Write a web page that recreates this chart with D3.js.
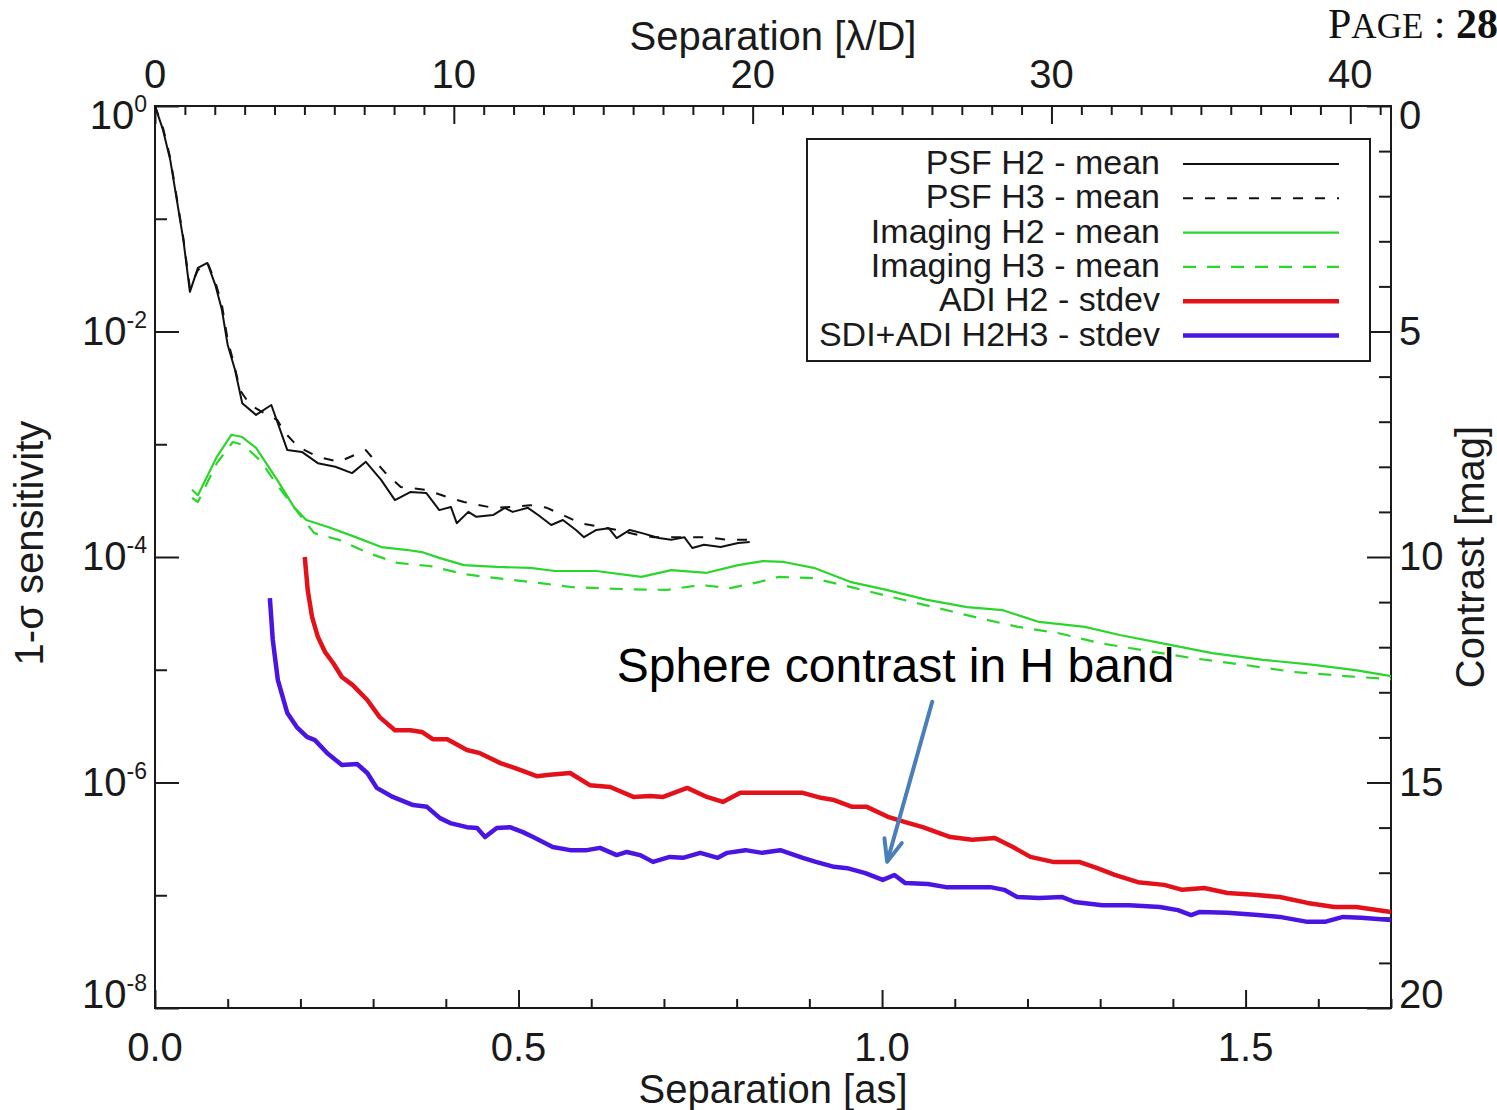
<!DOCTYPE html>
<html>
<head>
<meta charset="utf-8">
<script src="https://cdn.jsdelivr.net/npm/d3@7"></script>
<style>
  html, body { margin: 0; padding: 0; background: #fff; }
  svg { display: block; font-family: "Liberation Sans", Arial, Helvetica, sans-serif; }
</style>
</head>
<body>
<svg id="chart" width="1497" height="1110"></svg>
<script>
// ---- Data: [separation (arcsec), contrast (mag)] ----
const psfH2 = [
  [0.000,0.00],[0.011,0.53],[0.021,1.20],[0.030,2.08],[0.039,2.97],[0.048,4.12],[0.059,3.59],
  [0.072,3.48],[0.083,3.97],[0.092,4.52],[0.100,5.30],[0.110,5.85],[0.120,6.59],[0.139,6.85],
  [0.160,6.63],[0.182,7.63],[0.202,7.67],[0.224,7.92],[0.248,8.00],[0.271,8.14],[0.290,7.89],
  [0.311,8.29],[0.330,8.74],[0.351,8.56],[0.373,8.58],[0.391,8.96],[0.407,8.89],[0.415,9.25],
  [0.431,9.00],[0.442,9.11],[0.465,9.07],[0.481,8.91],[0.492,9.00],[0.513,8.91],[0.527,9.07],
  [0.545,9.29],[0.561,9.18],[0.579,9.40],[0.590,9.56],[0.607,9.40],[0.624,9.36],[0.635,9.58],
  [0.653,9.40],[0.670,9.47],[0.693,9.58],[0.710,9.62],[0.728,9.56],[0.739,9.80],[0.755,9.73],
  [0.778,9.78],[0.802,9.69],[0.818,9.67]
];
const psfH3 = [
  [0.000,0.00],[0.011,0.49],[0.021,1.15],[0.030,2.04],[0.039,2.93],[0.048,4.04],[0.059,3.64],
  [0.072,3.46],[0.083,3.90],[0.092,4.41],[0.100,5.19],[0.110,5.81],[0.117,6.30],[0.131,6.63],
  [0.147,6.78],[0.168,6.96],[0.179,7.25],[0.197,7.56],[0.224,7.78],[0.253,7.89],[0.290,7.63],
  [0.316,8.12],[0.338,8.45],[0.373,8.51],[0.402,8.67],[0.425,8.78],[0.465,8.91],[0.492,8.89],
  [0.516,8.85],[0.539,8.91],[0.561,9.07],[0.585,9.25],[0.612,9.33],[0.635,9.40],[0.664,9.51],
  [0.686,9.56],[0.721,9.56],[0.755,9.56],[0.790,9.62],[0.818,9.62]
];
const imagingH2 = [
  [0.051,8.51],[0.059,8.63],[0.085,7.78],[0.105,7.29],[0.120,7.34],[0.139,7.58],[0.168,8.29],
  [0.191,8.89],[0.208,9.18],[0.237,9.33],[0.276,9.56],[0.311,9.78],[0.345,9.84],[0.367,9.89],
  [0.391,10.02],[0.425,10.18],[0.470,10.22],[0.516,10.24],[0.550,10.31],[0.607,10.31],[0.669,10.44],
  [0.710,10.29],[0.759,10.35],[0.802,10.18],[0.836,10.09],[0.865,10.11],[0.906,10.24],[0.956,10.55],
  [1.006,10.73],[1.062,10.95],[1.117,11.11],[1.166,11.18],[1.216,11.44],[1.279,11.55],[1.327,11.73],
  [1.384,11.91],[1.454,12.13],[1.524,12.28],[1.594,12.39],[1.651,12.51],[1.700,12.64]
];
const imagingH3 = [
  [0.051,8.69],[0.059,8.78],[0.085,7.92],[0.107,7.45],[0.122,7.52],[0.144,7.85],[0.173,8.51],
  [0.197,9.02],[0.219,9.47],[0.253,9.62],[0.293,9.91],[0.333,10.13],[0.378,10.20],[0.425,10.38],
  [0.470,10.47],[0.530,10.58],[0.575,10.67],[0.640,10.71],[0.704,10.73],[0.750,10.62],[0.791,10.69],
  [0.832,10.55],[0.858,10.44],[0.906,10.47],[0.963,10.69],[1.019,10.91],[1.076,11.13],[1.132,11.35],
  [1.187,11.55],[1.243,11.69],[1.300,11.91],[1.356,12.06],[1.426,12.24],[1.497,12.39],[1.567,12.55],
  [1.637,12.64],[1.700,12.71]
];
const adiH2 = [
  [0.206,10.00],[0.210,10.73],[0.216,11.33],[0.224,11.77],[0.234,12.11],[0.245,12.35],[0.257,12.66],
  [0.272,12.84],[0.292,13.17],[0.309,13.55],[0.330,13.84],[0.351,13.84],[0.367,13.88],[0.382,14.04],
  [0.402,14.04],[0.429,14.28],[0.447,14.35],[0.475,14.57],[0.502,14.72],[0.525,14.86],[0.543,14.83],
  [0.571,14.79],[0.598,15.06],[0.626,15.10],[0.658,15.32],[0.681,15.30],[0.699,15.32],[0.732,15.12],
  [0.759,15.32],[0.781,15.43],[0.805,15.23],[0.842,15.23],[0.891,15.23],[0.916,15.34],[0.934,15.39],
  [0.959,15.54],[0.979,15.54],[1.008,15.76],[1.032,15.88],[1.056,15.99],[1.094,16.21],[1.124,16.27],
  [1.155,16.23],[1.180,16.43],[1.204,16.65],[1.235,16.76],[1.271,16.76],[1.296,16.90],[1.320,17.05],
  [1.352,17.21],[1.388,17.27],[1.413,17.38],[1.443,17.34],[1.475,17.45],[1.512,17.49],[1.547,17.54],
  [1.585,17.67],[1.622,17.76],[1.652,17.76],[1.700,17.87]
];
const sdiAdiH2H3 = [
  [0.158,10.91],[0.162,11.84],[0.169,12.73],[0.182,13.46],[0.195,13.77],[0.209,13.99],[0.220,14.06],
  [0.237,14.35],[0.257,14.61],[0.278,14.59],[0.292,14.79],[0.305,15.12],[0.327,15.32],[0.355,15.50],
  [0.374,15.54],[0.392,15.79],[0.406,15.90],[0.429,15.99],[0.443,16.01],[0.454,16.21],[0.470,16.01],
  [0.488,15.99],[0.506,16.10],[0.520,16.21],[0.547,16.43],[0.571,16.50],[0.594,16.50],[0.612,16.45],
  [0.635,16.61],[0.649,16.54],[0.667,16.61],[0.685,16.76],[0.708,16.65],[0.726,16.67],[0.750,16.56],
  [0.774,16.67],[0.787,16.56],[0.812,16.50],[0.835,16.56],[0.860,16.50],[0.891,16.67],[0.909,16.76],
  [0.934,16.87],[0.952,16.90],[0.977,17.01],[1.001,17.16],[1.017,17.05],[1.032,17.23],[1.063,17.25],
  [1.088,17.32],[1.118,17.32],[1.149,17.32],[1.168,17.38],[1.186,17.54],[1.216,17.56],[1.248,17.54],
  [1.265,17.65],[1.303,17.72],[1.340,17.72],[1.382,17.76],[1.407,17.83],[1.425,17.94],[1.437,17.87],
  [1.475,17.89],[1.517,17.94],[1.547,17.98],[1.585,18.09],[1.609,18.09],[1.634,17.98],[1.659,18.00],
  [1.700,18.05]
];

// ---- Axis ticks and labels ----
const sepTicks = [0, 0.5, 1.0, 1.5];
const sepLabels = ["0.0", "0.5", "1.0", "1.5"];
const ldTicks = [0, 10, 20, 30, 40];
const sensTicks = [1, 1e-2, 1e-4, 1e-6, 1e-8];
const sensExponents = ["0", "-2", "-4", "-6", "-8"];
const magTicks = [0, 5, 10, 15, 20];
const AS_PER_LD = 0.0411;   // arcsec per lambda/D in H band

const series = [
  { name: "PSF H2 - mean",        data: psfH2,      color: "#111111", width: 2,   dash: null },
  { name: "PSF H3 - mean",        data: psfH3,      color: "#111111", width: 2,   dash: "10,12" },
  { name: "Imaging H2 - mean",    data: imagingH2,  color: "#2bd62b", width: 2.2, dash: null },
  { name: "Imaging H3 - mean",    data: imagingH3,  color: "#2bd62b", width: 2.2, dash: "13,11" },
  { name: "ADI H2 - stdev",       data: adiH2,      color: "#e3121a", width: 4.5, dash: null },
  { name: "SDI+ADI H2H3 - stdev", data: sdiAdiH2H3, color: "#4a14e2", width: 4.5, dash: null }
];

const annotation = { text: "Sphere contrast in H band", sep: 0.635, mag: 12.77,
                     from: [1.069, 13.21], to: [1.007, 16.76] };

// ---- Layout ----
const svg = d3.select("#chart");
const P = { left: 155, right: 1391, top: 106, bottom: 1008 };
const FS = 40;
const INK = "#1a1a1a";

const x = d3.scaleLinear().domain([0, 1.7]).range([P.left, P.right]);
const xLD = d3.scaleLinear().domain([0, 1.7 / AS_PER_LD]).range([P.left, P.right]);
const ySens = d3.scaleLog().domain([1, 1e-8]).range([P.top, P.bottom]);
const yMag = d3.scaleLinear().domain([0, 20]).range([P.top, P.bottom]);

function styleAxis(g) {
  g.select(".domain").remove();
  g.selectAll(".tick line").attr("stroke", INK).attr("stroke-width", 2);
  g.selectAll(".tick text").remove();
}

// bottom axis (arcsec), ticks pointing inward
const sepMinor = d3.range(1, 18).map(i => i / 10).filter(v => Math.abs(v * 2 - Math.round(v * 2)) > 1e-6);
svg.append("g").attr("transform", `translate(0,${P.bottom})`)
  .call(d3.axisBottom(x).tickValues(sepMinor).tickSize(-9)).call(styleAxis);
svg.append("g").attr("transform", `translate(0,${P.bottom})`)
  .call(d3.axisBottom(x).tickValues(sepTicks).tickSize(-18)).call(styleAxis);

// top axis (lambda/D)
const ldMinor = d3.range(1, 42).filter(v => v % 10 !== 0);
svg.append("g").attr("transform", `translate(0,${P.top})`)
  .call(d3.axisTop(xLD).tickValues(ldMinor).tickSize(-9)).call(styleAxis);
svg.append("g").attr("transform", `translate(0,${P.top})`)
  .call(d3.axisTop(xLD).tickValues(ldTicks).tickSize(-18)).call(styleAxis);

// left axis (sensitivity, log)
const sensMinor = [1e-1, 1e-3, 1e-5, 1e-7];
svg.append("g").attr("transform", `translate(${P.left},0)`)
  .call(d3.axisLeft(ySens).tickValues(sensMinor).tickSize(-12)).call(styleAxis);
svg.append("g").attr("transform", `translate(${P.left},0)`)
  .call(d3.axisLeft(ySens).tickValues(sensTicks).tickSize(-24)).call(styleAxis);

// right axis (contrast, mag)
const magMinor = d3.range(1, 20).filter(v => v % 5 !== 0);
svg.append("g").attr("transform", `translate(${P.right},0)`)
  .call(d3.axisRight(yMag).tickValues(magMinor).tickSize(-12)).call(styleAxis);
svg.append("g").attr("transform", `translate(${P.right},0)`)
  .call(d3.axisRight(yMag).tickValues(magTicks).tickSize(-24)).call(styleAxis);

// frame
svg.append("rect")
  .attr("x", P.left).attr("y", P.top)
  .attr("width", P.right - P.left).attr("height", P.bottom - P.top)
  .attr("fill", "none").attr("stroke", INK).attr("stroke-width", 2);

// end labels are nudged inward so they stay inside the frame height
const labelShift = (i, n) => (i === 0 ? 23 : (i === n - 1 ? 0 : 13));

// left tick labels: 10^n
sensTicks.forEach((v, i) => {
  const t = svg.append("text")
    .attr("x", P.left - 8).attr("y", ySens(v) + labelShift(i, sensTicks.length))
    .attr("text-anchor", "end").attr("font-size", FS).attr("fill", INK);
  t.append("tspan").text("10");
  t.append("tspan").attr("font-size", 23).attr("dy", -17).text(sensExponents[i]);
});

// right tick labels
magTicks.forEach((v, i) => {
  svg.append("text")
    .attr("x", P.right + 8).attr("y", yMag(v) + labelShift(i, magTicks.length))
    .attr("font-size", FS).attr("fill", INK).text(v);
});

// bottom tick labels
sepTicks.forEach((v, i) => {
  svg.append("text").attr("x", x(v)).attr("y", P.bottom + 53)
    .attr("text-anchor", "middle").attr("font-size", FS).attr("fill", INK).text(sepLabels[i]);
});

// top tick labels
ldTicks.forEach(v => {
  svg.append("text").attr("x", xLD(v)).attr("y", P.top - 18)
    .attr("text-anchor", "middle").attr("font-size", FS).attr("fill", INK).text(v);
});

// axis titles
const midX = (P.left + P.right) / 2;
svg.append("text").attr("x", midX).attr("y", 1103).attr("text-anchor", "middle")
  .attr("font-size", FS).attr("fill", INK).text("Separation [as]");
svg.append("text").attr("x", midX).attr("y", 50).attr("text-anchor", "middle")
  .attr("font-size", FS).attr("fill", INK).text("Separation [\u03BB/D]");
svg.append("text").attr("transform", "translate(43,543) rotate(-90)").attr("text-anchor", "middle")
  .attr("font-size", FS).attr("fill", INK).text("1-\u03C3 sensitivity");
svg.append("text").attr("transform", "translate(1484,557) rotate(-90)").attr("text-anchor", "middle")
  .attr("font-size", FS).attr("fill", INK).text("Contrast [mag]");

// curves
const line = d3.line().x(d => x(d[0])).y(d => yMag(d[1]));
svg.append("g").selectAll("path").data(series).join("path")
  .attr("d", d => line(d.data))
  .attr("fill", "none")
  .attr("stroke", d => d.color)
  .attr("stroke-width", d => d.width)
  .attr("stroke-dasharray", d => d.dash)
  .attr("stroke-linejoin", "round");

// legend
const legend = svg.append("g");
legend.append("rect").attr("x", 807).attr("y", 139).attr("width", 563).attr("height", 222)
  .attr("fill", "#fff").attr("stroke", INK).attr("stroke-width", 2);
const rows = legend.selectAll("g.row").data(series).join("g")
  .attr("transform", (d, i) => `translate(0,${164 + i * 34.3})`);
rows.append("text").attr("x", 1160).attr("y", 10).attr("text-anchor", "end")
  .attr("font-size", 34).attr("fill", INK).text(d => d.name);
rows.append("line").attr("x1", 1183).attr("x2", 1339).attr("y1", 0).attr("y2", 0)
  .attr("stroke", d => d.color).attr("stroke-width", d => d.width)
  .attr("stroke-dasharray", d => d.dash);

// annotation
svg.append("text").attr("x", x(annotation.sep)).attr("y", yMag(annotation.mag))
  .attr("font-size", 48).attr("fill", "#000").text(annotation.text);
const ax0 = x(annotation.from[0]), ay0 = yMag(annotation.from[1]);
const ax1 = x(annotation.to[0]), ay1 = yMag(annotation.to[1]);
const len = Math.hypot(ax1 - ax0, ay1 - ay0);
const ux = (ax1 - ax0) / len, uy = (ay1 - ay0) / len;
const bx = ax1 - 22 * ux, by = ay1 - 22 * uy;
const arrow = svg.append("g").attr("stroke", "#4a7ebb").attr("fill", "none")
  .attr("stroke-width", 4).attr("stroke-linecap", "round").attr("stroke-linejoin", "round");
arrow.append("line").attr("x1", ax0).attr("y1", ay0).attr("x2", ax1 - 3 * ux).attr("y2", ay1 - 3 * uy);
arrow.append("path").attr("d",
  `M${bx - 9 * uy},${by + 9 * ux} L${ax1},${ay1} L${bx + 9 * uy},${by - 9 * ux}`);

// page header
const hdr = svg.append("text").attr("x", 1328).attr("y", 38)
  .attr("font-family", "'Liberation Serif', 'DejaVu Serif', serif").attr("fill", "#111");
hdr.append("tspan").attr("font-size", 42).text("P");
hdr.append("tspan").attr("font-size", 35).text("AGE");
hdr.append("tspan").attr("font-size", 42).text(" : ");
hdr.append("tspan").attr("font-size", 42).attr("font-weight", "bold").text("28");
</script>
</body>
</html>
